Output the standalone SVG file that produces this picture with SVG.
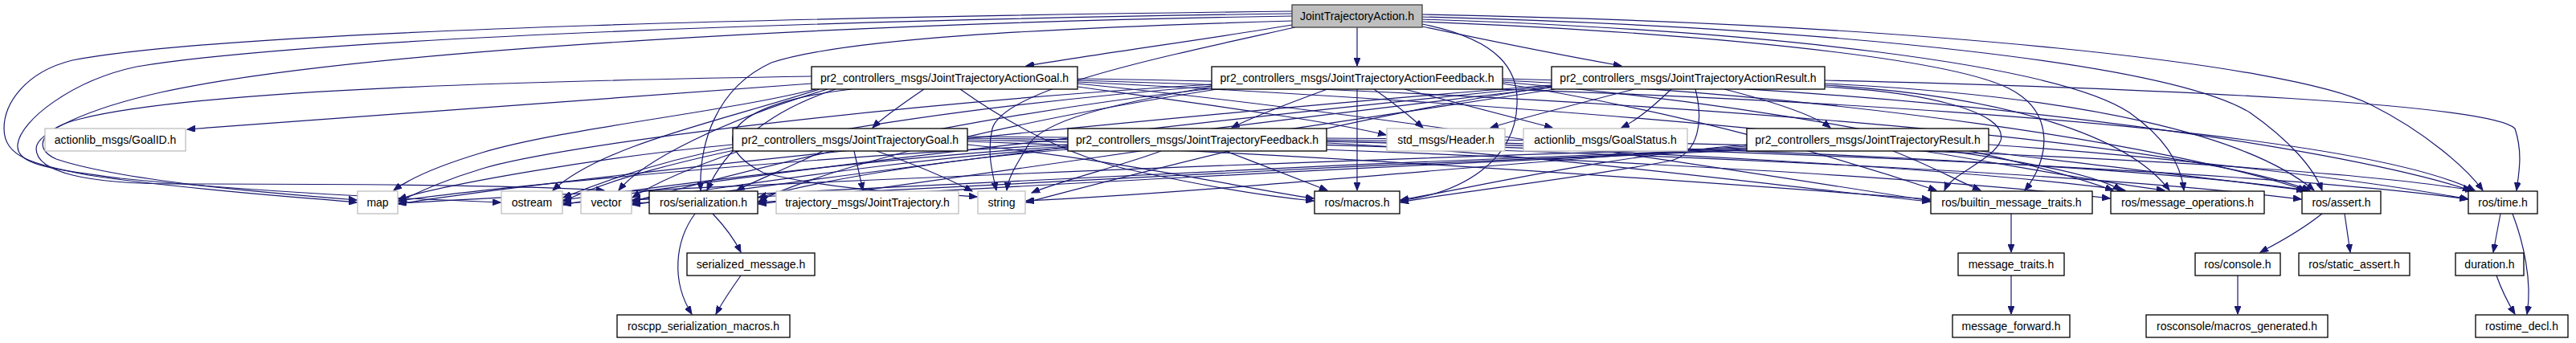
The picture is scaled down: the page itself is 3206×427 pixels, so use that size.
<svg xmlns="http://www.w3.org/2000/svg" width="3206" height="427" viewBox="0 0 3206 427">
<style>
.bg{fill:#ffffff}
.e path{fill:none;stroke:#191970;stroke-width:1.2;marker-end:url(#ah)}
.n rect{fill:#ffffff;stroke:#000000;stroke-width:1.3}
.g rect{fill:#ffffff;stroke:#bfbfbf;stroke-width:1.3}
.r rect{fill:#bfbfbf;stroke:#404040;stroke-width:1.3}
text{font-family:"Liberation Sans",Arial,sans-serif;font-size:14px;fill:#000000;text-anchor:middle}
</style>
<defs>
<marker id="ah" markerUnits="userSpaceOnUse" markerWidth="11" markerHeight="8" refX="10" refY="4" orient="auto">
<path d="M0,0 L10,4 L0,8 z" fill="#191970" stroke="#191970" stroke-width="1"/>
</marker>
</defs>
<rect class="bg" x="0" y="0" width="3206" height="427"/>
<g id="edges" class="e">
<path d="M1608,31 C1520,46 1380,65 1277,82"/>
<path d="M1689,34 L1689,82"/>
<path d="M1770,33 C1850,50 1950,70 2018,82"/>
<path d="M1608,14 C1100,20 300,35 90,75 C30,90 5,130 5,160 C5,195 40,205 110,218 C220,235 380,246 444,252"/>
<path d="M1608,17 C1100,24 400,45 170,83 C90,100 25,150 22,180 C20,205 60,210 150,222 C330,240 520,248 623,252"/>
<path d="M1608,20 C1100,28 450,60 200,115 C110,135 45,165 45,185 C45,215 110,229 220,229 C420,229 640,230 752,237"/>
<path d="M1608,26 C1300,35 1050,48 960,78 C890,110 870,180 872,237"/>
<path d="M1612,34 C1450,70 1250,110 1235,160 C1228,190 1235,215 1240,237"/>
<path d="M1770,30 C1870,50 1890,90 1888,130 C1886,200 1820,240 1743,250"/>
<path d="M1770,27 C2100,40 2420,70 2500,110 C2560,140 2550,200 2520,237"/>
<path d="M1770,24 C2200,38 2560,80 2650,140 C2700,175 2715,210 2718,237"/>
<path d="M1770,21 C2300,35 2700,80 2800,140 C2850,175 2880,210 2890,237"/>
<path d="M1770,18 C2400,30 2850,80 2950,130 C3020,165 3070,210 3090,237"/>
<path d="M1010,104 L233,161"/>
<path d="M1341,108 C1500,130 1650,150 1725,168"/>
<path d="M1150,111 C1125,128 1100,145 1086,159"/>
<path d="M1010,95 C700,100 250,110 100,148 C50,160 40,185 70,198 C150,225 330,240 444,249"/>
<path d="M1015,111 C900,140 700,160 600,190 C550,205 510,222 490,237"/>
<path d="M1020,111 C900,150 750,180 688,237"/>
<path d="M1030,111 C900,150 800,200 770,237"/>
<path d="M1040,111 C950,140 900,190 880,237"/>
<path d="M1060,111 C900,130 880,180 950,215 C1050,240 1150,240 1216,245"/>
<path d="M1195,111 C1250,150 1320,190 1400,210 C1500,232 1580,245 1635,250"/>
<path d="M1341,104 C1700,140 2150,210 2402,250"/>
<path d="M1341,102 C1900,130 2550,180 2640,237"/>
<path d="M1341,100 C2000,120 2700,170 2875,237"/>
<path d="M1341,98 C2100,110 2900,150 3080,237"/>
<path d="M1652,111 C1600,130 1560,145 1533,159"/>
<path d="M1710,111 C1735,128 1755,145 1771,159"/>
<path d="M1748,111 C1820,130 1880,145 1932,159"/>
<path d="M1689,111 L1689,237"/>
<path d="M1508,108 C1380,130 1300,150 1280,180 C1265,205 1255,220 1253,237"/>
<path d="M1508,105 C1100,130 700,180 600,210 C550,225 520,240 496,251"/>
<path d="M1508,107 C1100,140 800,200 701,251"/>
<path d="M1510,110 C1150,150 900,220 787,251"/>
<path d="M1515,111 C1200,160 1000,220 944,251"/>
<path d="M1870,104 C2100,140 2300,200 2410,237"/>
<path d="M1870,102 C2200,130 2500,190 2630,237"/>
<path d="M1870,100 C2300,120 2700,180 2870,237"/>
<path d="M1870,98 C2400,110 2900,180 3075,237"/>
<path d="M2034,111 C1960,130 1890,148 1855,159"/>
<path d="M2080,111 C2060,130 2040,148 2018,159"/>
<path d="M2146,111 C2220,130 2260,145 2278,159"/>
<path d="M2110,111 C2120,150 2115,190 2080,200 C1950,225 1800,240 1743,252"/>
<path d="M1931,108 C1700,140 1400,220 1277,252"/>
<path d="M1931,106 C1500,140 700,220 496,254"/>
<path d="M1931,107 C1500,150 850,225 701,255"/>
<path d="M1931,109 C1500,160 950,230 787,255"/>
<path d="M1935,111 C1550,170 1100,235 944,254"/>
<path d="M2271,108 C2400,115 2500,140 2490,175 C2480,200 2430,215 2420,237"/>
<path d="M2271,106 C2500,120 2650,170 2700,237"/>
<path d="M2271,104 C2600,120 2800,170 2880,237"/>
<path d="M2271,100 C2700,110 3100,130 3130,160 C3140,190 3135,215 3132,237"/>
<path d="M1063,188 L1074,237"/>
<path d="M1024,188 C990,205 940,225 917,237"/>
<path d="M1091,188 C1140,205 1185,225 1210,238"/>
<path d="M912,180 C750,195 550,230 496,248"/>
<path d="M915,183 C820,200 740,230 701,246"/>
<path d="M920,188 C870,205 820,225 787,246"/>
<path d="M1204,180 C1400,200 1550,235 1635,247"/>
<path d="M1204,176 C1600,190 2100,225 2402,248"/>
<path d="M1204,174 C1800,185 2400,220 2626,247"/>
<path d="M1204,172 C1900,180 2600,215 2864,248"/>
<path d="M1204,170 C2000,175 2800,210 3071,248"/>
<path d="M1445,188 C1400,205 1320,225 1284,240"/>
<path d="M1525,188 C1570,205 1620,225 1652,237"/>
<path d="M1329,180 C1000,195 600,235 496,250"/>
<path d="M1329,182 C1050,200 800,235 701,249"/>
<path d="M1329,184 C1100,200 900,235 787,249"/>
<path d="M1329,186 C1150,200 1000,230 944,246"/>
<path d="M1651,178 C1900,190 2200,230 2402,251"/>
<path d="M1651,176 C2000,185 2450,210 2645,237"/>
<path d="M1651,174 C2100,180 2650,205 2872,237"/>
<path d="M1651,172 C2200,175 2850,200 3078,237"/>
<path d="M2356,188 C2400,205 2430,222 2465,237"/>
<path d="M2394,188 C2500,205 2600,225 2694,237"/>
<path d="M2465,188 C2600,205 2780,225 2868,237"/>
<path d="M2475,180 C2700,195 2950,225 3072,248"/>
<path d="M2174,180 C2000,195 1850,230 1743,249"/>
<path d="M2174,182 C1900,200 1500,240 1277,250"/>
<path d="M2174,184 C1600,200 800,235 496,253"/>
<path d="M2174,185 C1650,205 900,240 701,253"/>
<path d="M2174,186 C1700,205 1000,240 787,253"/>
<path d="M2174,187 C1750,205 1100,240 944,252"/>
<path d="M887,266 C905,285 915,300 922,314"/>
<path d="M865,266 C840,300 835,350 861,391"/>
<path d="M922,343 C910,360 898,378 891,391"/>
<path d="M2503,266 L2503,314"/>
<path d="M2503,343 L2503,391"/>
<path d="M2890,266 C2860,290 2830,305 2813,314"/>
<path d="M2918,266 L2925,314"/>
<path d="M2785,343 L2785,391"/>
<path d="M3112,266 L3103,314"/>
<path d="M3127,266 C3140,300 3152,350 3145,391"/>
<path d="M3107,343 C3113,360 3122,378 3130,391"/>
</g>
<g id="n_action" class="r"><rect x="1608" y="6" width="162" height="28"/><text x="1689" y="25">JointTrajectoryAction.h</text></g>
<g id="n_actiongoal" class="n"><rect x="1010" y="83" width="331" height="28"/><text x="1175.5" y="102">pr2_controllers_msgs/JointTrajectoryActionGoal.h</text></g>
<g id="n_actionfeedback" class="n"><rect x="1508" y="83" width="362" height="28"/><text x="1689" y="102">pr2_controllers_msgs/JointTrajectoryActionFeedback.h</text></g>
<g id="n_actionresult" class="n"><rect x="1931" y="83" width="340" height="28"/><text x="2101" y="102">pr2_controllers_msgs/JointTrajectoryActionResult.h</text></g>
<g id="n_goalid" class="g"><rect x="56" y="160" width="175" height="28"/><text x="143.5" y="179">actionlib_msgs/GoalID.h</text></g>
<g id="n_goal" class="n"><rect x="912" y="160" width="292" height="28"/><text x="1058" y="179">pr2_controllers_msgs/JointTrajectoryGoal.h</text></g>
<g id="n_feedback" class="n"><rect x="1329" y="160" width="322" height="28"/><text x="1490" y="179">pr2_controllers_msgs/JointTrajectoryFeedback.h</text></g>
<g id="n_header" class="g"><rect x="1726" y="160" width="147" height="28"/><text x="1799.5" y="179">std_msgs/Header.h</text></g>
<g id="n_goalstatus" class="g"><rect x="1896" y="160" width="204" height="28"/><text x="1998" y="179">actionlib_msgs/GoalStatus.h</text></g>
<g id="n_result" class="n"><rect x="2174" y="160" width="301" height="28"/><text x="2324.5" y="179">pr2_controllers_msgs/JointTrajectoryResult.h</text></g>
<g id="n_map" class="g"><rect x="445" y="238" width="50" height="28"/><text x="470" y="257">map</text></g>
<g id="n_ostream" class="g"><rect x="624" y="238" width="76" height="28"/><text x="662" y="257">ostream</text></g>
<g id="n_vector" class="g"><rect x="723" y="238" width="63" height="28"/><text x="754.5" y="257">vector</text></g>
<g id="n_serialization" class="n"><rect x="808" y="238" width="135" height="28"/><text x="875.5" y="257">ros/serialization.h</text></g>
<g id="n_jointtrajectory" class="g"><rect x="966" y="238" width="227" height="28"/><text x="1079.5" y="257">trajectory_msgs/JointTrajectory.h</text></g>
<g id="n_string" class="g"><rect x="1217" y="238" width="59" height="28"/><text x="1246.5" y="257">string</text></g>
<g id="n_macros" class="n"><rect x="1636" y="238" width="106" height="28"/><text x="1689" y="257">ros/macros.h</text></g>
<g id="n_bmt" class="n"><rect x="2403" y="238" width="201" height="28"/><text x="2503.5" y="257">ros/builtin_message_traits.h</text></g>
<g id="n_msgops" class="n"><rect x="2627" y="238" width="191" height="28"/><text x="2722.5" y="257">ros/message_operations.h</text></g>
<g id="n_assert" class="n"><rect x="2865" y="238" width="98" height="28"/><text x="2914" y="257">ros/assert.h</text></g>
<g id="n_time" class="n"><rect x="3072" y="238" width="86" height="28"/><text x="3115" y="257">ros/time.h</text></g>
<g id="n_serializedmsg" class="n"><rect x="855" y="315" width="159" height="28"/><text x="934.5" y="334">serialized_message.h</text></g>
<g id="n_msgtraits" class="n"><rect x="2437" y="315" width="132" height="28"/><text x="2503" y="334">message_traits.h</text></g>
<g id="n_console" class="n"><rect x="2732" y="315" width="106" height="28"/><text x="2785" y="334">ros/console.h</text></g>
<g id="n_staticassert" class="n"><rect x="2861" y="315" width="138" height="28"/><text x="2930" y="334">ros/static_assert.h</text></g>
<g id="n_duration" class="n"><rect x="3056" y="315" width="85" height="28"/><text x="3098.5" y="334">duration.h</text></g>
<g id="n_sermacros" class="n"><rect x="768" y="392" width="215" height="28"/><text x="875.5" y="411">roscpp_serialization_macros.h</text></g>
<g id="n_msgforward" class="n"><rect x="2430" y="392" width="146" height="28"/><text x="2503" y="411">message_forward.h</text></g>
<g id="n_macrosgen" class="n"><rect x="2671" y="392" width="226" height="28"/><text x="2784" y="411">rosconsole/macros_generated.h</text></g>
<g id="n_rostimedecl" class="n"><rect x="3081" y="392" width="115" height="28"/><text x="3138.5" y="411">rostime_decl.h</text></g>
</svg>
